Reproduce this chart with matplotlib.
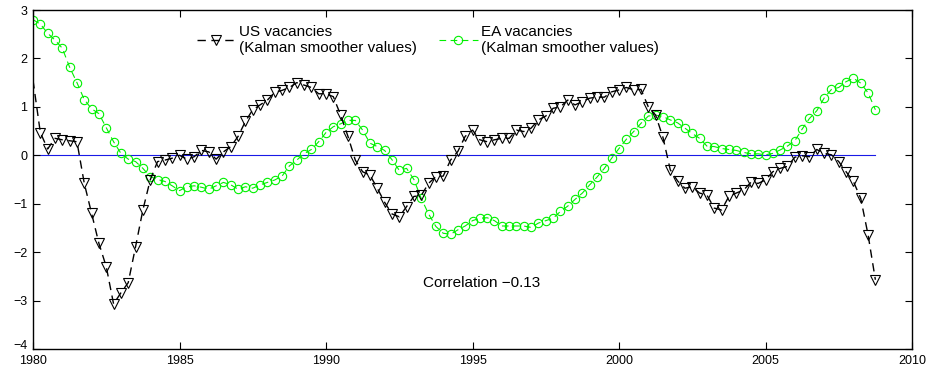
import numpy as np
import matplotlib
matplotlib.use("Agg")
import matplotlib.pyplot as plt
from matplotlib.transforms import ScaledTranslation

plt.rcParams['font.family'] = ['Liberation Sans', 'DejaVu Sans']

start_year = 1980.0
us_vacancies = [
    1.55, 0.47, 0.13, 0.35,
    0.32, 0.30, 0.28, -0.58,
    -1.20, -1.82, -2.30, -3.07,
    -2.84, -2.63, -1.89, -1.13,
    -0.51, -0.13, -0.10, -0.06,
    0.00, -0.08, -0.03, 0.10,
    0.07, -0.08, 0.07, 0.18,
    0.39, 0.70, 0.94, 1.04,
    1.14, 1.30, 1.34, 1.40,
    1.50, 1.45, 1.40, 1.27,
    1.27, 1.21, 0.83, 0.39,
    -0.10, -0.34, -0.41, -0.68,
    -0.97, -1.21, -1.27, -1.06,
    -0.85, -0.83, -0.58, -0.44,
    -0.43, -0.10, 0.08, 0.39,
    0.52, 0.32, 0.28, 0.32,
    0.35, 0.35, 0.52, 0.49,
    0.56, 0.73, 0.81, 0.97,
    1.00, 1.14, 1.04, 1.11,
    1.18, 1.20, 1.20, 1.31,
    1.35, 1.40, 1.35, 1.36,
    1.00, 0.83, 0.37, -0.30,
    -0.53, -0.68, -0.65, -0.78,
    -0.82, -1.09, -1.13, -0.85,
    -0.78, -0.72, -0.56, -0.58,
    -0.51, -0.34, -0.27, -0.23,
    -0.04, -0.01, -0.03, 0.12,
    0.04, 0.01, -0.13, -0.34,
    -0.54, -0.89, -1.64, -2.57,
]
ea_vacancies = [
    2.80, 2.71, 2.52, 2.38,
    2.21, 1.82, 1.50, 1.15,
    0.96, 0.86, 0.57, 0.28,
    0.04, -0.08, -0.13, -0.27,
    -0.44, -0.50, -0.54, -0.63,
    -0.73, -0.65, -0.63, -0.66,
    -0.70, -0.63, -0.56, -0.61,
    -0.70, -0.65, -0.68, -0.61,
    -0.56, -0.51, -0.43, -0.22,
    -0.10, 0.03, 0.12, 0.28,
    0.47, 0.59, 0.65, 0.72,
    0.72, 0.52, 0.25, 0.18,
    0.10, -0.09, -0.31, -0.27,
    -0.50, -0.89, -1.21, -1.47,
    -1.61, -1.63, -1.54, -1.46,
    -1.35, -1.30, -1.29, -1.35,
    -1.46, -1.46, -1.46, -1.46,
    -1.49, -1.40, -1.35, -1.30,
    -1.16, -1.05, -0.91, -0.78,
    -0.61, -0.45, -0.27, -0.06,
    0.14, 0.33, 0.49, 0.66,
    0.81, 0.83, 0.80, 0.73,
    0.67, 0.56, 0.45, 0.35,
    0.19, 0.18, 0.14, 0.12,
    0.10, 0.06, 0.03, 0.03,
    0.01, 0.04, 0.11, 0.19,
    0.30, 0.54, 0.76, 0.92,
    1.18, 1.36, 1.40, 1.52,
    1.59, 1.49, 1.29, 0.94,
]
us_label = "US vacancies\n(Kalman smoother values)"
ea_label = "EA vacancies\n(Kalman smoother values)"
annotation = "Correlation \u22120.13"
x_ticks = [1980, 1985, 1990, 1995, 2000, 2005, 2010]
y_ticks = [-4, -3, -2, -1, 0, 1, 2, 3]

years = start_year + np.arange(len(us_vacancies)) / 4.0

W, H = 935, 367
fig = plt.figure(figsize=(W / 100, H / 100), dpi=100)
ax = fig.add_axes([33 / W, 1 - 349 / H, (912 - 33) / W, (349 - 10) / H])

ax.plot(years, np.zeros_like(years), color='#1a1ae6', lw=0.8, zorder=1)
ax.plot(years, us_vacancies, color='black', ls=(0, (6, 4)), lw=1.0,
        marker='v', ms=6.5, mfc='none', mec='black', mew=0.8,
        markevery=range(1, len(us_vacancies)), label=us_label, zorder=3)
ax.plot(years, ea_vacancies, color='#00f000', ls=(0, (6, 4)), lw=0.8,
        marker='o', ms=6, mfc='none', mec='#00f000', mew=0.8, label=ea_label, zorder=2)

ax.set_xlim(1980, 2010)
ax.set_ylim(-4, 3)
ax.set_xticks(x_ticks)
ax.set_yticks(y_ticks)
ax.set_yticklabels([str(v).replace('-', '\u2212') for v in y_ticks])
ax.tick_params(direction='in', top=True, right=True, length=5, width=0.8,
               labelsize=9)
ax.tick_params(axis='x', pad=4)
ax.tick_params(axis='y', pad=4)
for s in ax.spines.values():
    s.set_linewidth(1.0)

# lift the lowest y label slightly so it clears the first x label
low = ax.yaxis.get_major_ticks()[0].label1
low.set_transform(low.get_transform() + ScaledTranslation(0, 3 / 72, fig.dpi_scale_trans))

ax.text(1995.3, -2.64, annotation, ha='center', va='center', fontsize=11)

leg = ax.legend(loc='upper left', bbox_to_anchor=(0.18, 0.975), ncol=2, frameon=False,
                fontsize=11, handlelength=2.5, handletextpad=0.2, columnspacing=1.5,
                borderaxespad=0, labelspacing=0.1)

fig.savefig("out.png", dpi=100)
